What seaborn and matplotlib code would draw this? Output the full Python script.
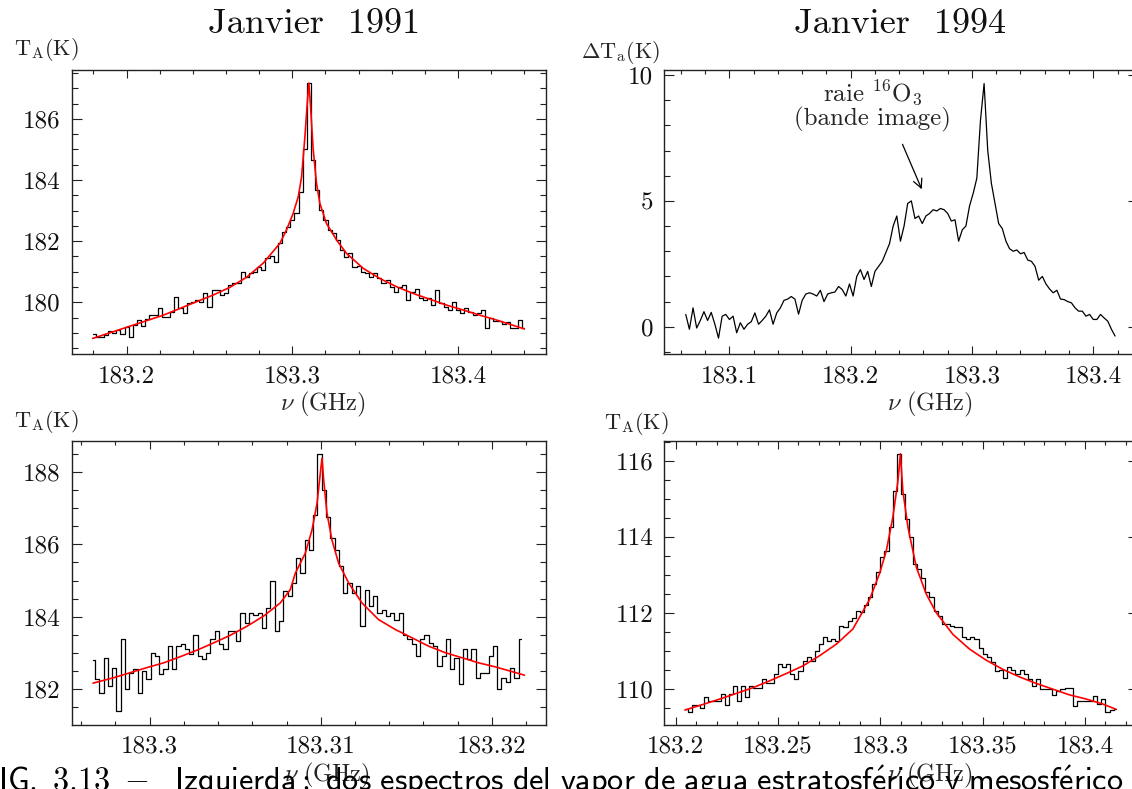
import numpy as np
import pandas as pd
import matplotlib
matplotlib.use("Agg")
import matplotlib.pyplot as plt
from matplotlib.ticker import MultipleLocator, FuncFormatter
import seaborn as sns

# ---------------- data ----------------
# Janvier 1991, wide band: channel temperatures (K), 0.0025 GHz channels from 183.18 GHz
wide91_start, wide91_step = 183.18, 0.0025
wide91_ta = [
    178.95, 178.87, 178.87, 178.93, 179.05, 179.00, 179.09, 178.95, 179.20, 178.85,
    179.26, 179.42, 179.24, 179.47, 179.58, 179.58, 179.80, 179.53, 179.53, 179.69,
    180.18, 179.80, 179.64, 179.97, 180.00, 180.08, 180.00, 180.32, 179.86, 180.40,
    180.40, 180.24, 180.29, 180.56, 180.64, 180.62, 181.00, 180.84, 180.95, 181.00,
    181.17, 181.06, 181.44, 181.50, 181.33, 181.93, 182.31, 182.48, 182.70, 182.91,
    183.60, 185.00, 187.17, 184.66, 183.68, 183.02, 182.70, 182.37, 182.26, 182.04,
    181.71, 181.49, 181.60, 181.17, 181.20, 181.00, 180.95, 180.84, 180.95, 180.80,
    180.62, 180.73, 180.50, 180.35, 180.50, 180.56, 180.08, 180.35, 180.45, 180.13,
    180.08, 180.13, 179.90, 180.40, 179.97, 179.86, 179.75, 180.00, 179.75, 179.64,
    179.80, 179.70, 179.58, 179.64, 179.75, 179.15, 179.48, 179.40, 179.40, 179.30,
    179.35, 179.15, 179.15, 179.42, 179.15,
]
wide91_fit_freq = [
    183.1795, 183.1920, 183.2020, 183.2121, 183.2221, 183.2322, 183.2422, 183.2523,
    183.2623, 183.2724, 183.2824, 183.2925, 183.2965, 183.3005, 183.3036, 183.3056,
    183.3076, 183.3090, 183.3100, 183.3110, 183.3126, 183.3146, 183.3166, 183.3206,
    183.3267, 183.3327, 183.3428, 183.3528, 183.3629, 183.3729, 183.3830, 183.3930,
    183.4031, 183.4131, 183.4221, 183.4400,
]
wide91_fit_ta = [
    178.82, 179.04, 179.22, 179.40, 179.58, 179.80, 180.02, 180.24,
    180.49, 180.82, 181.28, 181.93, 182.37, 182.91, 183.46, 184.11,
    185.42, 186.51, 187.17, 186.40, 184.99, 183.89, 183.24, 182.58,
    182.04, 181.60, 181.11, 180.78, 180.51, 180.29, 180.10, 179.91,
    179.75, 179.58, 179.44, 179.13,
]

# Janvier 1991, narrow band: 0.00025 GHz channels from 183.29668 GHz
narrow91_start, narrow91_step = 183.29668, 0.00025
narrow91_ta = [
    182.81, 182.29, 181.91, 182.87, 182.09, 182.60, 181.40, 183.39, 182.00, 182.46,
    182.55, 181.91, 182.51, 182.28, 183.00, 182.92, 182.41, 182.55, 183.19, 182.55,
    183.19, 183.24, 183.10, 182.96, 183.51, 182.92, 182.83, 183.01, 183.38, 183.60,
    183.24, 183.10, 183.60, 183.60, 183.33, 184.11, 183.83, 184.11, 184.06, 184.11,
    183.70, 184.25, 185.00, 183.60, 183.88, 184.70, 184.57, 184.93, 185.62, 185.20,
    186.12, 185.85, 186.80, 188.50, 187.50, 186.76, 186.17, 185.85, 185.39, 184.66,
    184.93, 184.66, 184.84, 183.74, 184.75, 184.30, 184.57, 184.11, 184.20, 184.02,
    184.11, 183.92, 184.11, 183.51, 183.38, 183.24, 182.92, 183.40, 183.51, 183.29,
    183.20, 182.64, 182.92, 183.38, 182.55, 182.87, 182.14, 183.10, 182.83, 183.10,
    182.32, 182.46, 182.46, 182.92, 183.20, 182.00, 182.30, 182.20, 182.60, 182.30,
    183.40,
]
narrow91_fit_freq = [
    183.29669, 183.29790, 183.29887, 183.29985, 183.30082, 183.30179, 183.30277,
    183.30374, 183.30471, 183.30569, 183.30666, 183.30763, 183.30822, 183.30851,
    183.30910, 183.30949, 183.30978, 183.30997, 183.31007, 183.31017, 183.31036,
    183.31065, 183.31104, 183.31163, 183.31241, 183.31338, 183.31435, 183.31533,
    183.31630, 183.31727, 183.31825, 183.31922, 183.32019, 183.32190,
]
narrow91_fit_ta = [
    182.17, 182.32, 182.46, 182.60, 182.73, 182.90, 183.08,
    183.28, 183.49, 183.74, 184.02, 184.38, 184.75, 185.20,
    185.76, 186.40, 187.13, 187.95, 188.37, 187.77, 186.86,
    186.12, 185.48, 184.93, 184.38, 183.92, 183.65, 183.42,
    183.19, 183.01, 182.87, 182.73, 182.62, 182.39,
]

# Janvier 1994, difference spectrum: 0.003 GHz sampling from 183.064 GHz
diff94_start, diff94_step = 183.064, 0.003
diff94_dta = [
    0.49, -0.10, 0.75, -0.05, 0.25, 0.60, 0.25, 0.57, 0.10, -0.45,
    0.42, 0.49, 0.29, 0.42, -0.24, 0.16, -0.10, 0.10, 0.20, 0.55,
    0.10, 0.25, 0.42, 0.67, 0.10, 0.55, 0.75, 1.05, 1.10, 1.20,
    1.10, 0.50, 1.05, 1.30, 1.35, 1.30, 1.22, 1.45, 1.00, 1.30,
    1.35, 1.38, 1.60, 1.48, 1.22, 1.70, 1.22, 2.00, 2.27, 1.88,
    2.20, 1.60, 2.20, 2.40, 2.60, 2.95, 3.30, 4.00, 4.40, 3.40,
    4.00, 4.90, 5.00, 4.30, 4.40, 4.10, 4.40, 4.50, 4.65, 4.60,
    4.70, 4.65, 4.50, 4.20, 4.25, 3.40, 3.85, 4.00, 4.80, 5.30,
    5.90, 8.20, 9.66, 7.00, 5.70, 4.90, 4.10, 3.90, 3.40, 3.10,
    3.00, 3.05, 2.90, 2.95, 2.65, 2.60, 2.40, 1.85, 2.00, 1.70,
    1.50, 1.35, 1.45, 1.10, 1.08, 1.00, 0.95, 0.75, 0.62, 0.62,
    0.42, 0.49, 0.29, 0.29, 0.49, 0.35, 0.22, -0.10, -0.37,
]

# Janvier 1994, full line: 0.002 GHz channels from 183.205 GHz
line94_start, line94_step = 183.205, 0.002
line94_ta = [
    109.47, 109.41, 109.59, 109.59, 109.50, 109.78, 109.69, 109.69, 109.69, 109.87,
    109.59, 109.87, 110.09, 109.69, 110.09, 109.78, 110.09, 110.03, 110.03, 110.26,
    110.17, 110.17, 110.39, 110.67, 110.57, 110.65, 110.39, 110.26, 110.48, 110.74,
    110.83, 110.74, 111.00, 111.18, 111.36, 111.27, 111.31, 111.27, 111.66, 111.62,
    111.80, 111.88, 112.06, 112.02, 112.20, 112.41, 112.76, 113.07, 113.46, 113.63,
    114.25, 115.20, 116.18, 115.12, 114.47, 113.99, 113.28, 113.15, 112.93, 112.54,
    112.41, 112.06, 111.93, 111.71, 111.71, 111.66, 111.62, 111.62, 111.36, 111.31,
    111.36, 111.31, 111.09, 110.92, 110.83, 110.70, 110.48, 110.50, 110.30, 110.57,
    110.50, 110.39, 110.50, 110.39, 110.26, 110.09, 110.26, 110.00, 110.00, 110.00,
    109.85, 109.96, 110.00, 110.04, 110.04, 109.56, 109.69, 109.69, 109.69, 109.69,
    109.82, 109.60, 109.75, 109.39, 109.45, 109.47,
]
line94_fit_freq = [
    183.2045, 183.2135, 183.2216, 183.2298, 183.2379, 183.2460, 183.2541, 183.2622,
    183.2704, 183.2785, 183.2866, 183.2948, 183.2997, 183.3029, 183.3061, 183.3086,
    183.3098, 183.3110, 183.3135, 183.3176, 183.3224, 183.3273, 183.3354, 183.3436,
    183.3517, 183.3598, 183.3680, 183.3761, 183.3842, 183.3923, 183.4005, 183.4086,
    183.4151,
]
line94_fit_ta = [
    109.45, 109.60, 109.74, 109.89, 110.04, 110.22, 110.41, 110.61,
    110.88, 111.18, 111.58, 112.36, 113.05, 113.63, 114.51, 115.47,
    116.18, 115.21, 114.25, 113.20, 112.50, 112.01, 111.44, 111.05,
    110.76, 110.52, 110.32, 110.15, 110.00, 109.85, 109.74, 109.61,
    109.47,
]

titles = ["Janvier  1991", "Janvier  1994"]
caption = (r"$\mathsf{FIG.\ 3.13\ -\ \ Izquierda:\ dos\ espectros\ del\ vapor\ de\ agua\ "
           r"estratosf\acute{e}rico\ y\ mesosf\acute{e}rico}$")

# ---------------- style ----------------
sns.set_style("ticks")
plt.rcParams["font.family"] = ["cmr10", "DejaVu Serif"]
plt.rcParams["mathtext.fontset"] = "cm"
plt.rcParams["axes.formatter.use_mathtext"] = True
plt.rcParams["axes.unicode_minus"] = False

W, H = 1132, 789
fig = plt.figure(figsize=(W / 100, H / 100), dpi=100)
fig.patch.set_facecolor("white")


def box(left, top, right, bottom):
    """Axes rectangle from pixel edges (origin top-left)."""
    return [left / W, 1 - bottom / H, (right - left) / W, (bottom - top) / H]


def fx(px):
    return px / W


def fy(py):
    return 1 - py / H


def channels(start, step, values):
    return start + step * np.arange(len(values))


ax_tl = fig.add_axes(box(71.6, 70.0, 546.2, 354.3))
ax_tr = fig.add_axes(box(664.3, 70.0, 1138.0, 354.2))
ax_bl = fig.add_axes(box(71.6, 440.5, 546.2, 724.5))
ax_br = fig.add_axes(box(664.3, 440.5, 1138.0, 724.5))

LW_DATA = 0.9
LW_FIT = 1.2
RED = "#ff0000"


def steps(ax, freq, ta):
    df = pd.DataFrame({"nu": freq, "ta": ta})
    sns.lineplot(data=df, x="nu", y="ta", ax=ax, color="black", lw=LW_DATA,
                 drawstyle="steps-mid", estimator=None, sort=False, errorbar=None)


def fit(ax, freq, ta):
    df = pd.DataFrame({"nu": freq, "ta": ta})
    sns.lineplot(data=df, x="nu", y="ta", ax=ax, color=RED, lw=LW_FIT,
                 estimator=None, sort=False, errorbar=None)


steps(ax_tl, channels(wide91_start, wide91_step, wide91_ta), wide91_ta)
fit(ax_tl, wide91_fit_freq, wide91_fit_ta)

d94 = pd.DataFrame({"nu": channels(diff94_start, diff94_step, diff94_dta), "dta": diff94_dta})
sns.lineplot(data=d94, x="nu", y="dta", ax=ax_tr, color="black", lw=LW_DATA,
             estimator=None, sort=False, errorbar=None)

steps(ax_bl, channels(narrow91_start, narrow91_step, narrow91_ta), narrow91_ta)
fit(ax_bl, narrow91_fit_freq, narrow91_fit_ta)

steps(ax_br, channels(line94_start, line94_step, line94_ta), line94_ta)
fit(ax_br, line94_fit_freq, line94_fit_ta)

# ---------------- axes ----------------
fmt = FuncFormatter(lambda v, _: f"{v:g}")
axes_cfg = [
    (ax_tl, (183.1668, 183.4532), (178.30, 187.60), 0.1, 0.02, 2, 0.5),
    (ax_tr, (183.0463, 183.4369), (-1.09, 10.20), 0.1, 0.02, 5, 1),
    (ax_bl, (183.29544, 183.32317), (181.03, 188.86), 0.01, 0.002, 2, 0.5),
    (ax_br, (183.19444, 183.4259), (109.07, 116.53), 0.05, 0.01, 2, 0.5),
]
for ax, xl, yl, xmaj, xmin, ymaj, ymin in axes_cfg:
    ax.set_xlim(*xl)
    ax.set_ylim(*yl)
    ax.xaxis.set_major_locator(MultipleLocator(xmaj))
    ax.xaxis.set_minor_locator(MultipleLocator(xmin))
    ax.yaxis.set_major_locator(MultipleLocator(ymaj))
    ax.yaxis.set_minor_locator(MultipleLocator(ymin))
    ax.xaxis.set_major_formatter(fmt)
    ax.yaxis.set_major_formatter(fmt)
    ax.set_xlabel("")
    ax.set_ylabel("")
    ax.tick_params(which="both", direction="in", top=True, right=True,
                   color="#222222", width=0.8, labelsize=18, labelcolor="#111111")
    ax.tick_params(axis="x", which="major", length=5.8, pad=8)
    ax.tick_params(axis="x", which="minor", length=3.2)
    ax.tick_params(axis="y", which="major", length=7.2, pad=8)
    ax.tick_params(axis="y", which="minor", length=4.0)
    for sp in ax.spines.values():
        sp.set_visible(True)
        sp.set_color("#222222")
        sp.set_linewidth(1.0)

# ---------------- text ----------------
fig.text(fx(314), fy(33), titles[0], ha="center", va="baseline", fontsize=26, color="#111111")
fig.text(fx(900), fy(33), titles[1], ha="center", va="baseline", fontsize=26, color="#111111")

ylab_ta = r"$\mathrm{T_A(K)}$"
fig.text(fx(13.5), fy(55), ylab_ta, ha="left", va="baseline", fontsize=16)
fig.text(fx(581), fy(58), r"$\Delta\mathrm{T_a(K)}$", ha="left", va="baseline", fontsize=16)
fig.text(fx(13.5), fy(427), ylab_ta, ha="left", va="baseline", fontsize=16)
fig.text(fx(604), fy(429), ylab_ta, ha="left", va="baseline", fontsize=16)

xlab = r"$\nu\ \mathrm{(GHz)}$"
fig.text(fx(323), fy(410), xlab, ha="center", va="baseline", fontsize=17.5)
fig.text(fx(930), fy(410), xlab, ha="center", va="baseline", fontsize=17.5)
fig.text(fx(327), fy(781), xlab, ha="center", va="baseline", fontsize=17.5)
fig.text(fx(930), fy(781), xlab, ha="center", va="baseline", fontsize=17.5)

# ozone line in the image band
ax_tr.text(183.2182, 8.95, r"raie $^{16}$O$_3$", ha="center", va="baseline", fontsize=18)
ax_tr.text(183.2182, 7.98, "(bande image)", ha="center", va="baseline", fontsize=18)
ax_tr.annotate("", xy=(183.2595, 5.36), xytext=(183.2418, 7.35),
               arrowprops=dict(arrowstyle="->", color="black", lw=0.9, mutation_scale=16))

fig.text(fx(-20), fy(791), caption, ha="left", va="baseline", fontsize=23.2, color="black")

fig.savefig("out.png", dpi=100, facecolor="white")
